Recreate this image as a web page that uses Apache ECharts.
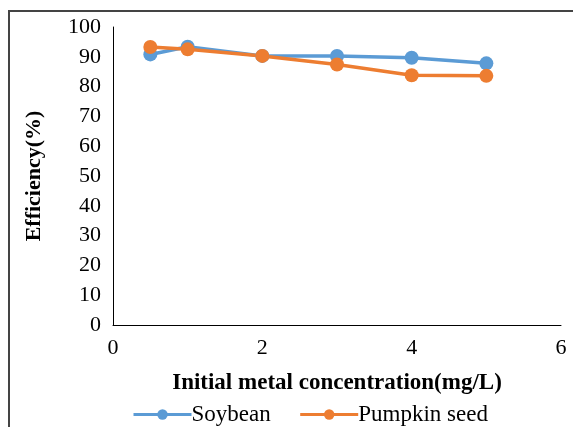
<!DOCTYPE html>
<html>
<head>
<meta charset="utf-8">
<script src="https://cdn.jsdelivr.net/npm/echarts@6/dist/echarts.min.js"></script>
<style>
html,body{margin:0;padding:0;background:#fff;}
#c{width:573px;height:427px;}
</style>
</head>
<body>
<div id="c"></div>
<script>
var xValues = [0.5, 1, 2, 3, 4, 5];
var soybean = [90.8, 93.4, 90.3, 90.3, 89.7, 87.8];
var pumpkinSeed = [93.3, 92.5, 90.3, 87.4, 83.8, 83.6];
var seriesNames = ['Soybean', 'Pumpkin seed'];
var xTitle = 'Initial metal concentration(mg/L)';
var yTitle = 'Efficiency(%)';

var font = '"Liberation Serif", "Times New Roman", serif';
function pairs(xs, ys) { return xs.map(function (x, i) { return [x, ys[i]]; }); }

var chart = echarts.init(document.getElementById('c'), null, {renderer: 'canvas'});
chart.setOption({
  animation: false,
  backgroundColor: '#fff',
  grid: {left: 113, right: 12, top: 27, bottom: 102, containLabel: false},
  xAxis: {
    type: 'value', min: 0, max: 6, interval: 2,
    name: xTitle, nameLocation: 'middle', nameGap: 47,
    nameTextStyle: {fontFamily: font, fontWeight: 'bold', fontSize: 23, color: '#000'},
    axisLine: {show: true, lineStyle: {color: '#000', width: 1}},
    axisTick: {show: false},
    splitLine: {show: false},
    axisLabel: {fontFamily: font, fontSize: 22, color: '#000', margin: 12}
  },
  yAxis: {
    type: 'value', min: 0, max: 100, interval: 10,
    name: yTitle, nameLocation: 'middle', nameGap: 68, nameRotate: 90,
    nameTextStyle: {fontFamily: font, fontWeight: 'bold', fontSize: 22, color: '#000'},
    axisLine: {show: true, lineStyle: {color: '#000', width: 1}},
    axisTick: {show: false},
    splitLine: {show: false},
    axisLabel: {fontFamily: font, fontSize: 22, color: '#000', margin: 12}
  },
  legend: {
    left: 127, top: 398,
    itemWidth: 58, itemHeight: 13, itemGap: 28,
    lineStyle: {width: 3},
    textStyle: {fontFamily: font, fontSize: 23, color: '#000', padding: [0, 0, 0, -5]},
    data: seriesNames
  },
  graphic: [
    {type: 'line', shape: {x1: 9, y1: 11, x2: 573, y2: 11}, style: {stroke: '#444', lineWidth: 2}},
    {type: 'line', shape: {x1: 9, y1: 10, x2: 9, y2: 427}, style: {stroke: '#444', lineWidth: 2}}
  ],
  series: [
    {
      name: seriesNames[0], type: 'line', data: pairs(xValues, soybean),
      symbol: 'circle', symbolSize: 14,
      lineStyle: {color: '#5B9BD5', width: 3.5},
      itemStyle: {color: '#5B9BD5'}
    },
    {
      name: seriesNames[1], type: 'line', data: pairs(xValues, pumpkinSeed),
      symbol: 'circle', symbolSize: 14,
      lineStyle: {color: '#ED7D31', width: 3.5},
      itemStyle: {color: '#ED7D31'}
    }
  ]
});
</script>
</body>
</html>
